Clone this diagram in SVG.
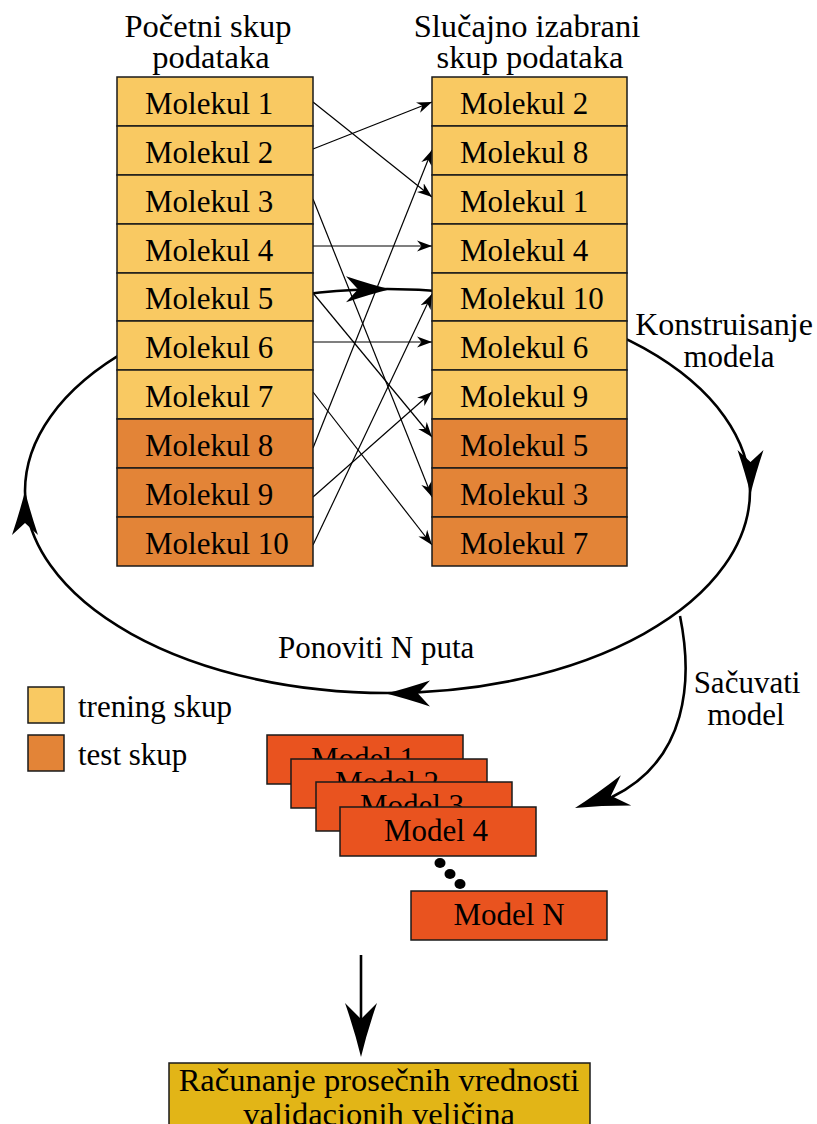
<svg xmlns="http://www.w3.org/2000/svg" xmlns:xlink="http://www.w3.org/1999/xlink" width="817" height="1124" viewBox="0 0 817 1124">
<style>
text{font-family:"Liberation Serif","DejaVu Serif",serif;font-size:31px;fill:#000}
.c{text-anchor:middle}
.big{font-size:32.5px}
.tr{fill:#F9C962;stroke:#1a1a1a;stroke-width:1.5}
.ts{fill:#E38437;stroke:#1a1a1a;stroke-width:1.5}
.md{fill:#E9531F;stroke:#1a1a1a;stroke-width:1.5}
.fin{fill:#E2B517;stroke:#1a1a1a;stroke-width:1.5}
.thin{fill:none;stroke:#000;stroke-width:1.2;marker-end:url(#sm)}
.thick{fill:none;stroke:#000;stroke-width:2.6}
</style>
<defs>
<marker id="sm" markerUnits="userSpaceOnUse" viewBox="-15 -6 16 12" refX="0" refY="0" markerWidth="16" markerHeight="12" orient="auto">
<path d="M0,0 L-15,-5.5 L-10.5,0 L-15,5.5 Z" fill="#000"/>
</marker>
<path id="st" d="M0,0 Q-20,-5 -44,-13 L-32,0 L-44,13 Q-20,5 0,0 Z" fill="#000"/>
<path id="stb" d="M0,0 Q-25,-6 -54,-16 L-38,0 L-54,16 Q-25,6 0,0 Z" fill="#000"/>
</defs>

<g id="connectors">
<ellipse class="thick" cx="387.5" cy="491" rx="362.5" ry="202"/>
<use xlink:href="#st" transform="translate(390,289.3)"/>
<use xlink:href="#st" transform="translate(750.5,494) rotate(90)"/>
<use xlink:href="#st" transform="translate(386,693.5) rotate(180)"/>
<use xlink:href="#st" transform="translate(25,491) rotate(-90)"/>
<path class="thick" d="M680,616 C693,680 688,760 612,797"/>
<use xlink:href="#stb" transform="translate(575,808) rotate(161)"/>
<path class="thick" d="M361,955 L361,1020"/>
<use xlink:href="#stb" transform="translate(361,1057) rotate(90)"/>
<path class="thin" d="M313,102 L432,197"/>
<path class="thin" d="M313,149 L432,102"/>
<path class="thin" d="M313,199 L432,497"/>
<path class="thin" d="M313,246 L432,246"/>
<path class="thin" d="M313,293 L432,437"/>
<path class="thin" d="M313,342 L432,342"/>
<path class="thin" d="M313,392 L432,545"/>
<path class="thin" d="M313,448 L432,150"/>
<path class="thin" d="M313,497 L432,392"/>
<path class="thin" d="M313,545 L432,294"/>
</g>

<g id="title-left">
<text class="c big" x="208" y="37">Početni skup</text>
<text class="c big" x="211" y="68">podataka</text>
</g>
<g id="title-right">
<text class="c big" x="527" y="37">Slučajno izabrani</text>
<text class="c big" x="530" y="68">skup podataka</text>
</g>

<g id="left-column">
<g id="L1"><rect class="tr" x="117" y="77" width="196" height="49"/><text x="145" y="114">Molekul 1</text></g>
<g id="L2"><rect class="tr" x="117" y="126" width="196" height="49"/><text x="145" y="163">Molekul 2</text></g>
<g id="L3"><rect class="tr" x="117" y="175" width="196" height="49"/><text x="145" y="212">Molekul 3</text></g>
<g id="L4"><rect class="tr" x="117" y="224" width="196" height="49"/><text x="145" y="261">Molekul 4</text></g>
<g id="L5"><rect class="tr" x="117" y="273" width="196" height="48"/><text x="145" y="309">Molekul 5</text></g>
<g id="L6"><rect class="tr" x="117" y="321" width="196" height="49"/><text x="145" y="358">Molekul 6</text></g>
<g id="L7"><rect class="tr" x="117" y="370" width="196" height="49"/><text x="145" y="407">Molekul 7</text></g>
<g id="L8"><rect class="ts" x="117" y="419" width="196" height="49"/><text x="145" y="456">Molekul 8</text></g>
<g id="L9"><rect class="ts" x="117" y="468" width="196" height="49"/><text x="145" y="505">Molekul 9</text></g>
<g id="L10"><rect class="ts" x="117" y="517" width="196" height="49"/><text x="145" y="554">Molekul 10</text></g>
</g>

<g id="right-column">
<g id="R1"><rect class="tr" x="432" y="77" width="195" height="49"/><text x="460" y="114">Molekul 2</text></g>
<g id="R2"><rect class="tr" x="432" y="126" width="195" height="49"/><text x="460" y="163">Molekul 8</text></g>
<g id="R3"><rect class="tr" x="432" y="175" width="195" height="49"/><text x="460" y="212">Molekul 1</text></g>
<g id="R4"><rect class="tr" x="432" y="224" width="195" height="49"/><text x="460" y="261">Molekul 4</text></g>
<g id="R5"><rect class="tr" x="432" y="273" width="195" height="48"/><text x="460" y="309">Molekul 10</text></g>
<g id="R6"><rect class="tr" x="432" y="321" width="195" height="49"/><text x="460" y="358">Molekul 6</text></g>
<g id="R7"><rect class="tr" x="432" y="370" width="195" height="49"/><text x="460" y="407">Molekul 9</text></g>
<g id="R8"><rect class="ts" x="432" y="419" width="195" height="49"/><text x="460" y="456">Molekul 5</text></g>
<g id="R9"><rect class="ts" x="432" y="468" width="195" height="49"/><text x="460" y="505">Molekul 3</text></g>
<g id="R10"><rect class="ts" x="432" y="517" width="195" height="49"/><text x="460" y="554">Molekul 7</text></g>
</g>

<g id="labels">
<text class="c" x="724" y="335" style="font-size:32px">Konstruisanje</text>
<text class="c" x="729" y="367">modela</text>
<text x="278" y="658">Ponoviti N puta</text>
<text class="c" x="747" y="693">Sačuvati</text>
<text class="c" x="746" y="725">model</text>
</g>

<g id="legend">
<g id="legend-trening"><rect class="tr" x="28" y="687" width="36" height="36"/><text x="78" y="717">trening skup</text></g>
<g id="legend-test"><rect class="ts" x="28" y="735" width="36" height="36"/><text x="78" y="765">test skup</text></g>
</g>

<g id="models">
<g id="M1"><rect class="md" x="267" y="735" width="196" height="49"/><text class="c" x="363" y="769">Model 1</text></g>
<g id="M2"><rect class="md" x="291" y="759" width="196" height="49"/><text class="c" x="387" y="793">Model 2</text></g>
<g id="M3"><rect class="md" x="316" y="782" width="196" height="49"/><text class="c" x="412" y="816">Model 3</text></g>
<g id="M4"><rect class="md" x="340" y="807" width="196" height="49"/><text class="c" x="436" y="841">Model 4</text></g>
<g id="dots"><ellipse cx="440" cy="863" rx="5.5" ry="5"/><ellipse cx="450" cy="874" rx="5.5" ry="5"/><ellipse cx="460" cy="884" rx="5.5" ry="5"/></g>
<g id="MN"><rect class="md" x="411" y="891" width="196" height="49"/><text class="c" x="509" y="925">Model N</text></g>
</g>

<g id="result">
<rect class="fin" x="169" y="1063" width="421" height="80"/>
<text class="c" x="379" y="1091" style="font-size:32.5px">Računanje prosečnih vrednosti</text>
<text class="c" x="379" y="1125" style="font-size:32.5px">validacionih veličina</text>
</g>
</svg>
